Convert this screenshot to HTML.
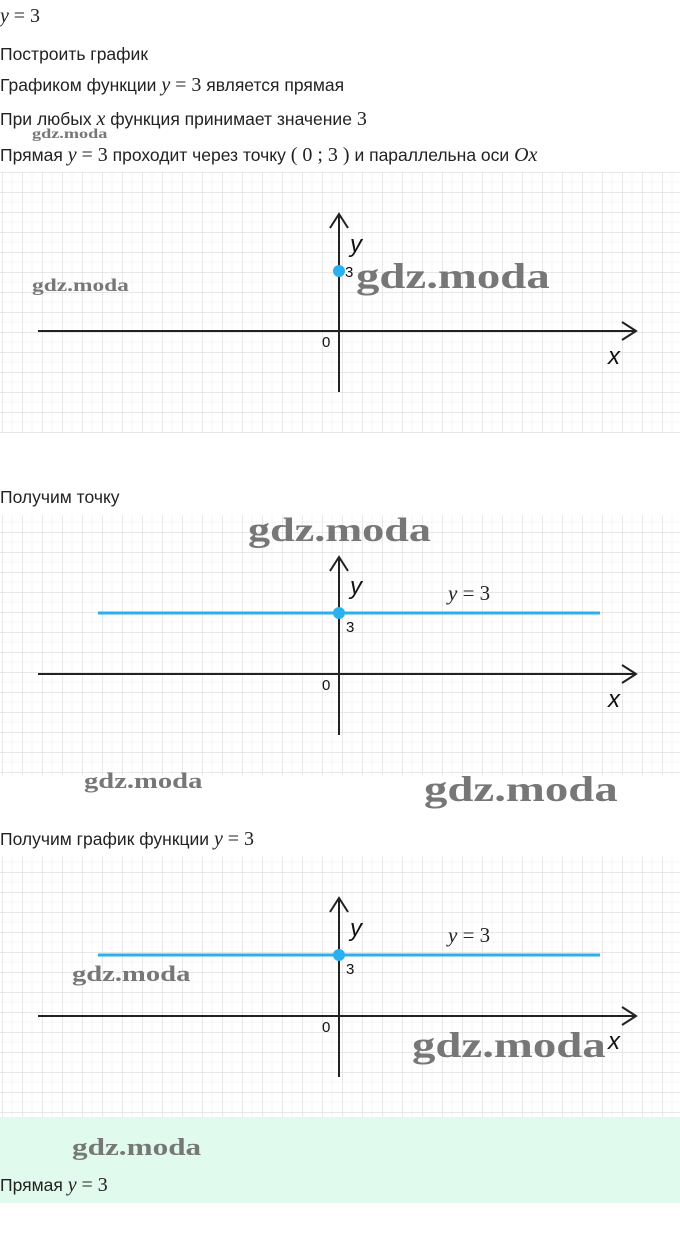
<!DOCTYPE html>
<html><head><meta charset="utf-8"><style>
body{margin:0;width:680px;height:1239px;background:#fff;font-family:"Liberation Sans",sans-serif;color:#222;position:relative;overflow:hidden}
.t{position:absolute;left:0;font-size:17.5px;white-space:nowrap}
.m{font-family:"Liberation Serif",serif;font-style:italic;font-size:20px}
.n{font-family:"Liberation Serif",serif;font-size:20px}
.wm{position:absolute;font-family:"Liberation Serif",serif;font-weight:bold;color:#777;transform:scaleX(1.3);transform-origin:left top;white-space:nowrap}
svg{position:absolute;left:0}
</style></head><body>
<div class="t" style="top:5px"><span class="m">y</span> <span class="n">= 3</span></div>
<div class="t" style="top:44px">Построить график</div>
<div class="t" style="top:74px">Графиком функции <span class="m">y</span> <span class="n">= 3</span> является прямая</div>
<div class="t" style="top:108px">При любых <span class="m">x</span> функция принимает значение <span class="n">3</span></div>
<div class="wm" style="left:32px;top:127px;font-size:14px">gdz.moda</div>
<div class="t" style="top:144px">Прямая <span class="m">y</span> <span class="n">= 3</span> проходит через точку <span class="n">( 0 ; 3 )</span> и параллельна оси <span class="m">Ox</span></div>

<svg width="680" height="1239" style="top:0">
<defs>
<pattern id="g" width="20" height="20" patternUnits="userSpaceOnUse" x="2" y="12">
<rect width="20" height="20" fill="#fff"/>
<path d="M0 10H20M10 0V20" stroke="#f4f4f4" stroke-width="1"/>
<path d="M0 0H20M0 0V20" stroke="#e0e0e0" stroke-width="1.5"/>
</pattern>
</defs>
<rect x="0" y="172" width="680" height="261" fill="url(#g)"/>
<rect x="0" y="515" width="680" height="260" fill="url(#g)"/>
<rect x="0" y="856" width="680" height="261" fill="url(#g)"/>
<rect x="0" y="1117" width="680" height="86" fill="#e0fbee"/>
<g stroke="#222" stroke-width="2" fill="none">
<path d="M38 331H636M622 322L636 331L622 340M339 392V214M330 228L339 214L348 228"/>
<path d="M38 674H636M622 665L636 674L622 683M339 735V557M330 571L339 557L348 571"/>
<path d="M38 1016H636M622 1007L636 1016L622 1025M339 1077V898M330 912L339 898L348 912"/>
</g>
<path d="M98 613H600M98 955H600" stroke="#2ab0ee" stroke-width="3"/>
<circle cx="339" cy="271" r="6" fill="#2ab0ee"/>
<circle cx="339" cy="613" r="6" fill="#2ab0ee"/>
<circle cx="339" cy="955" r="6" fill="#2ab0ee"/>
<g font-family="Liberation Sans,sans-serif" fill="#111">
<text x="350" y="252" font-size="24" font-style="italic">y</text>
<text x="345" y="277" font-size="15">3</text>
<text x="322" y="347" font-size="15">0</text>
<text x="608" y="364" font-size="24" font-style="italic">x</text>
<text x="350" y="594" font-size="24" font-style="italic">y</text>
<text x="346" y="632" font-size="15">3</text>
<text x="322" y="690" font-size="15">0</text>
<text x="608" y="707" font-size="24" font-style="italic">x</text>
<text x="350" y="936" font-size="24" font-style="italic">y</text>
<text x="346" y="974" font-size="15">3</text>
<text x="322" y="1032" font-size="15">0</text>
<text x="608" y="1049" font-size="24" font-style="italic">x</text>
</g>
<g font-family="Liberation Serif,serif" font-size="21" fill="#222">
<text x="448" y="600"><tspan font-style="italic">y</tspan> = 3</text>
<text x="448" y="942"><tspan font-style="italic">y</tspan> = 3</text>
</g>
</svg>
<div class="wm" style="left:32px;top:275px;font-size:18px">gdz.moda</div>
<div class="wm" style="left:356px;top:255px;font-size:36px">gdz.moda</div>
<div class="t" style="top:487px">Получим точку</div>
<div class="wm" style="left:248px;top:512px;font-size:34px">gdz.moda</div>
<div class="wm" style="left:84px;top:768px;font-size:22px">gdz.moda</div>
<div class="wm" style="left:424px;top:768px;font-size:36px">gdz.moda</div>
<div class="t" style="top:828px">Получим график функции <span class="m">y</span> <span class="n">= 3</span></div>
<div class="wm" style="left:72px;top:961px;font-size:22px">gdz.moda</div>
<div class="wm" style="left:412px;top:1024px;font-size:36px">gdz.moda</div>
<div class="wm" style="left:72px;top:1135px;font-size:24px">gdz.moda</div>
<div class="t" style="top:1174px">Прямая <span class="m">y</span> <span class="n">= 3</span></div>
</body></html>
